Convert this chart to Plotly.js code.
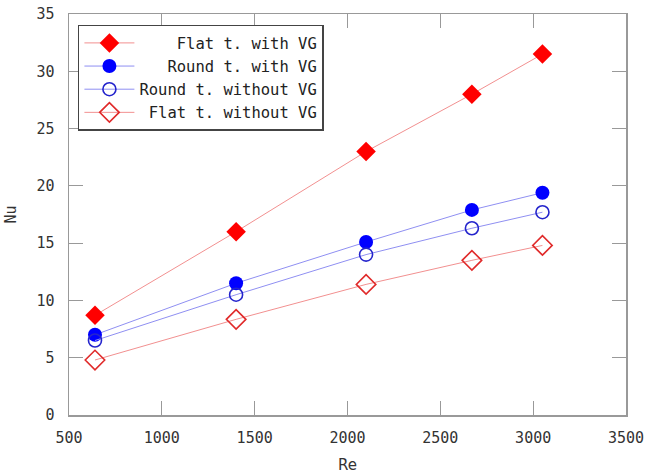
<!DOCTYPE html>
<html>
<head>
<meta charset="utf-8">
<script src="https://cdn.plot.ly/plotly-3.0.1.min.js"></script>
<style>html,body{margin:0;padding:0;background:#fff;}#chart{width:645px;height:476px;}</style>
</head>
<body>
<div id="chart"></div>
<script>
var re = [640, 1400, 2100, 2670, 3050];
var flatWithVG = [8.7, 16.0, 23.0, 28.0, 31.5];
var roundWithVG = [7.0, 11.5, 15.1, 17.9, 19.4];
var roundWithoutVG = [6.5, 10.5, 14.0, 16.3, 17.7];
var flatWithoutVG = [4.8, 8.35, 11.4, 13.5, 14.8];
var seriesNames = ["Flat t. with VG", "Round t. with VG", "Round t. without VG", "Flat t. without VG"];
var xTicks = [500, 1000, 1500, 2000, 2500, 3000, 3500];
var yTicks = [0, 5, 10, 15, 20, 25, 30, 35];

var maxLen = Math.max.apply(null, seriesNames.map(function(s){return s.length;}));
function pad(s){ return '\u00A0'.repeat(maxLen - s.length) + s; }

var traces = [
  {x: re, y: flatWithVG, name: pad(seriesNames[0]), legendgroup: 'a', mode: 'lines+markers',
   line: {color: '#f29090', width: 1},
   marker: {symbol: 'diamond', size: 15, color: '#ff0000', line: {width: 0}}},
  {x: re, y: roundWithVG, name: pad(seriesNames[1]), legendgroup: 'b', mode: 'lines+markers',
   line: {color: '#8f8ff2', width: 1},
   marker: {symbol: 'circle', size: 14, color: '#0000ff', line: {width: 0}}},
  {x: re, y: roundWithoutVG, name: pad(seriesNames[2]), legendgroup: 'c', mode: 'lines+markers',
   line: {color: '#8f8ff2', width: 1},
   marker: {symbol: 'circle-open', size: 13, color: '#2424cc', line: {width: 1.6, color: '#2424cc'}}},
  {x: re, y: flatWithoutVG, name: pad(seriesNames[3]), legendgroup: 'd', mode: 'lines+markers',
   line: {color: '#f29090', width: 1},
   marker: {symbol: 'diamond-open', size: 15, color: '#e02a2a', line: {width: 1.6, color: '#e02a2a'}}}
];

var axisCommon = {
  showgrid: false, zeroline: false, showline: true, mirror: 'allticks',
  linecolor: '#999999', linewidth: 1.5,
  ticks: 'inside', ticklen: 14, tickwidth: 1.2, tickcolor: '#999999',
  tickfont: {family: 'DejaVu Sans Mono', size: 15, color: '#333333'}
};

var layout = {
  width: 645, height: 476,
  margin: {l: 69, r: 19, t: 14, b: 61},
  paper_bgcolor: '#ffffff', plot_bgcolor: '#ffffff',
  showlegend: true,
  xaxis: Object.assign({}, axisCommon, {
    range: [500, 3500], tickvals: xTicks, ticktext: xTicks.map(String),
    ticklabelstandoff: 8,
    title: {text: 'Re', font: {family: 'DejaVu Sans', size: 15, color: '#333333'}, standoff: 14}
  }),
  yaxis: Object.assign({}, axisCommon, {
    range: [0, 35], tickvals: yTicks, ticktext: yTicks.map(String),
    ticklabelstandoff: 10,
    title: {text: 'Nu', font: {family: 'DejaVu Sans Mono', size: 15, color: '#333333'}, standoff: 16}
  }),
  legend: {
    x: 0.016, y: 0.973, xanchor: 'left', yanchor: 'top',
    bgcolor: '#ffffff', bordercolor: '#444444', borderwidth: 1.5,
    font: {family: 'DejaVu Sans Mono', size: 15.5, color: '#222222'},
    itemwidth: 50, tracegroupgap: 9, traceorder: 'normal'
  }
};

Plotly.newPlot('chart', traces, layout, {displayModeBar: false, staticPlot: true});
</script>
</body>
</html>
